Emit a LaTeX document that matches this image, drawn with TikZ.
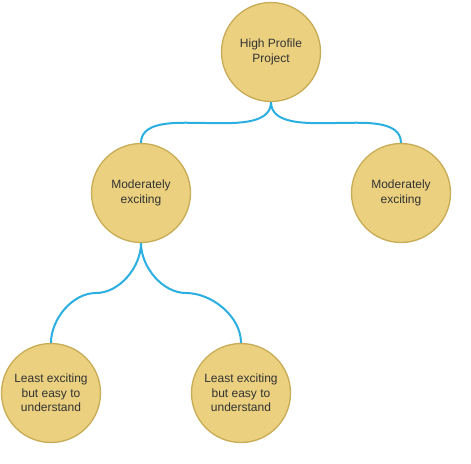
\documentclass[tikz,border=0pt]{standalone}
\usepackage{fontspec}
\setmainfont{Liberation Sans}
\begin{document}
\definecolor{nodefill}{HTML}{EAD07F}
\definecolor{nodeline}{HTML}{C8AC55}
\definecolor{linkblue}{HTML}{2AAFE0}
\definecolor{txt}{HTML}{333333}
\begin{tikzpicture}[x=1pt,y=-1pt,
  bubble/.style={circle,draw=nodeline,line width=1.3pt,fill=nodefill,minimum size=99pt,inner sep=0pt,
    align=center,text=txt,font=\fontsize{12}{14.5}\selectfont},
  link/.style={draw=linkblue,line width=2pt}]
\useasboundingbox (0,0) rectangle (471,463);
\node[bubble] (top) at (271,52) {High Profile\\Project};
\node[bubble] (ml) at (141,193) {Moderately\\exciting};
\node[bubble] (mr) at (401,193) {Moderately\\exciting};
\node[bubble] (bl) at (51,393) {Least exciting\\but easy to\\understand};
\node[bubble] (br) at (241,393) {Least exciting\\but easy to\\understand};
\coordinate (tm1) at (206,123);
\coordinate (tm2) at (336,123);
\coordinate (bm1) at (96,293);
\coordinate (bm2) at (186,293);
\draw[link] (top.south) to[out=-90,in=0,looseness=0.9] (tm1) to[out=180,in=90,looseness=0.9] (ml.north);
\draw[link] (top.south) to[out=-90,in=180,looseness=0.9] (tm2) to[out=0,in=90,looseness=0.9] (mr.north);
\draw[link] (ml.south) to[out=-90,in=0,looseness=0.9] (bm1) to[out=180,in=90,looseness=0.9] (bl.north);
\draw[link] (ml.south) to[out=-90,in=180,looseness=0.9] (bm2) to[out=0,in=90,looseness=0.9] (br.north);
\end{tikzpicture}
\end{document}
